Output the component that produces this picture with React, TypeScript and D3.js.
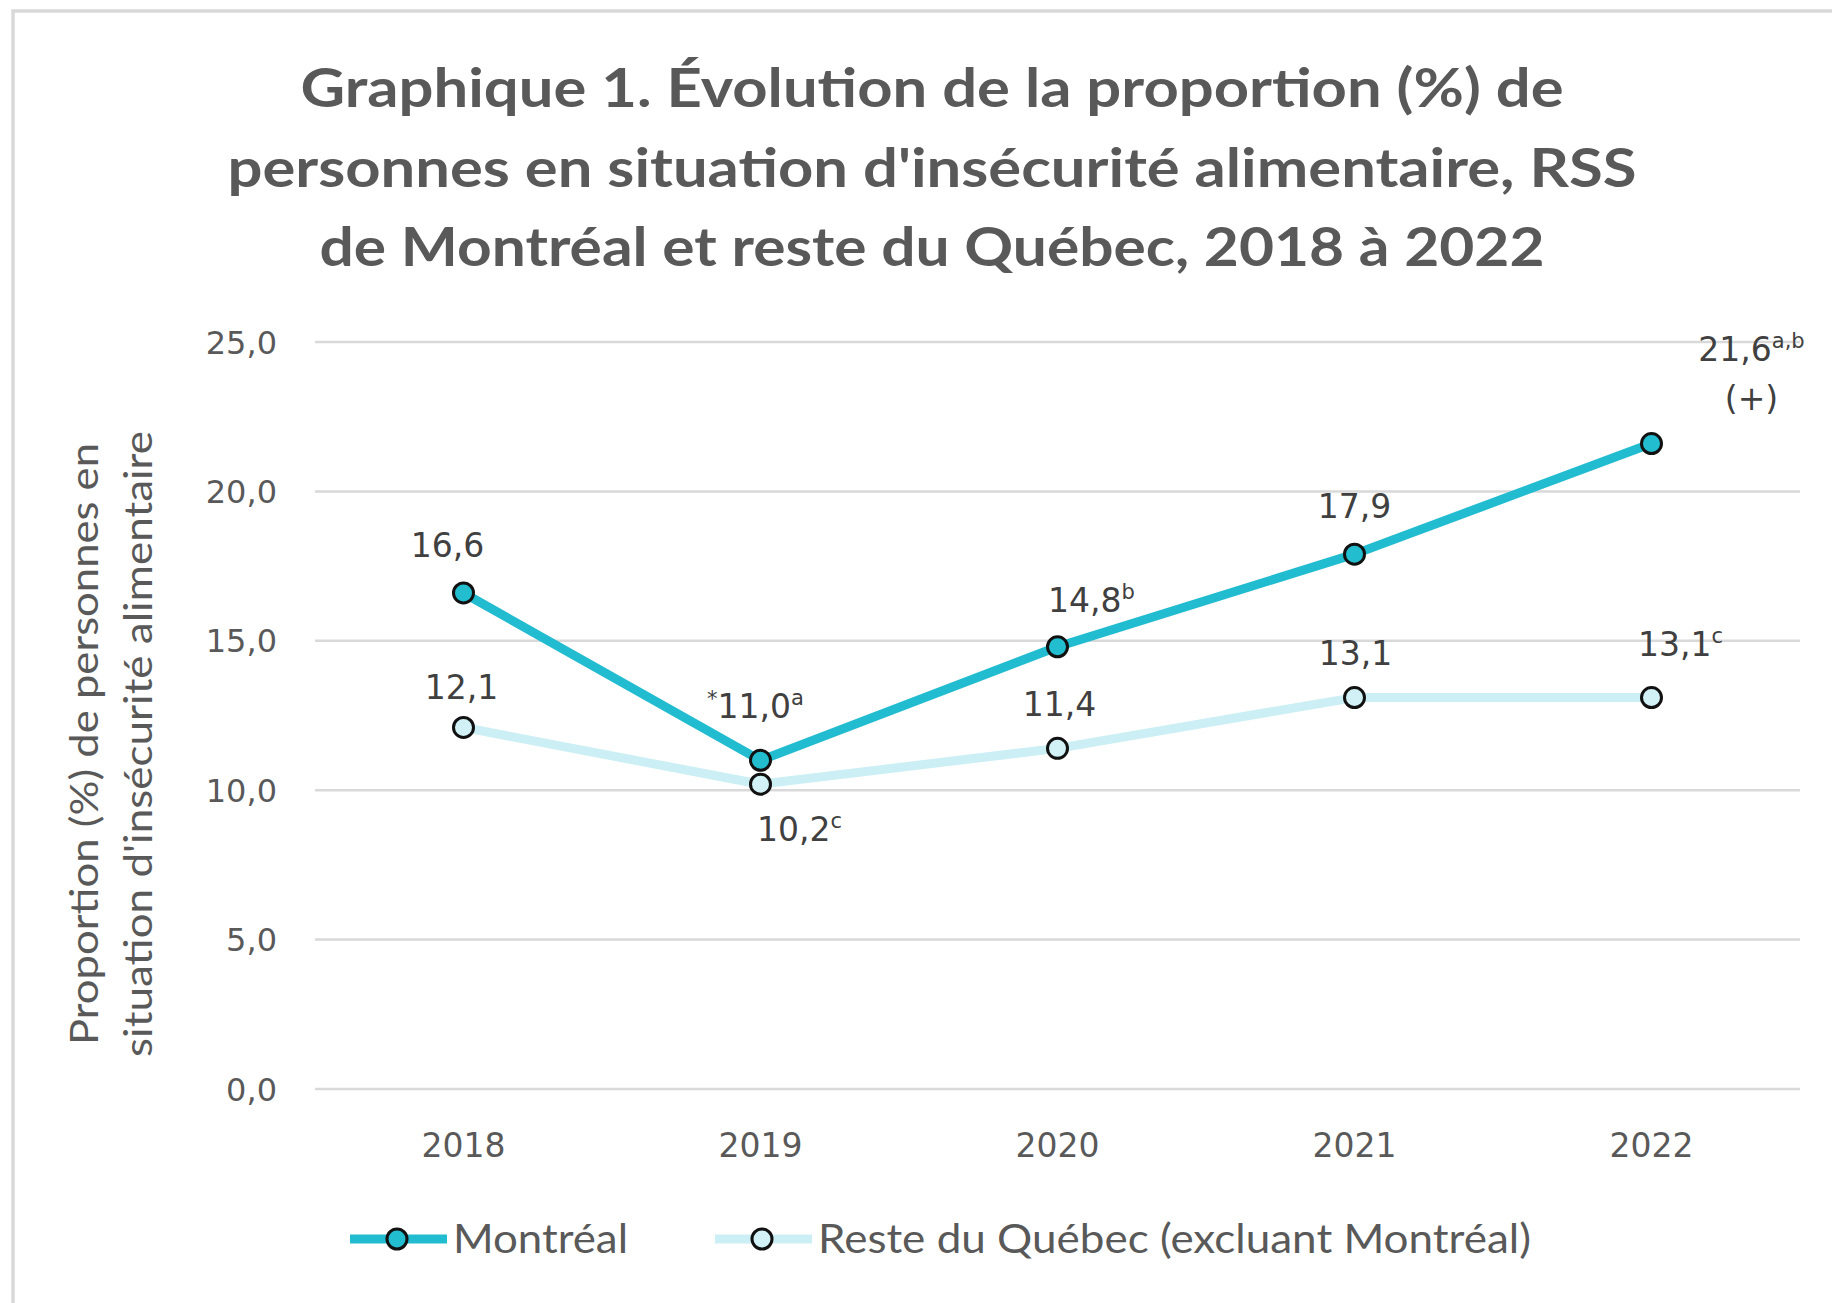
import React from 'react';
import * as d3 from 'd3';

// Data
const years = ['2018', '2019', '2020', '2021', '2022'];
const montreal = [16.6, 11.0, 14.8, 17.9, 21.6];
const resteQuebec = [12.1, 10.2, 11.4, 13.1, 13.1];
const montrealLabels = ['16,6', '11,0', '14,8', '17,9', '21,6'];
const montrealSups = ['', 'a', 'b', '', 'a,b'];
const montrealPrefix = ['', '*', '', '', ''];
const resteLabels = ['12,1', '10,2', '11,4', '13,1', '13,1'];
const resteSups = ['', 'c', '', '', 'c'];
const yTicks = [0, 5, 10, 15, 20, 25];
const seriesNames = ['Montréal', 'Reste du Québec (excluant Montréal)'];
const titleLines = [
  "Graphique 1. Évolution de la proportion (%) de",
  "personnes en situation d'insécurité alimentaire, RSS",
  'de Montréal et reste du Québec, 2018 à 2022',
];

// Layout
const W = 1832;
const H = 1303;
const plot = { left: 315, right: 1800, top: 342, bottom: 1089 };
const montrealColor = '#22bcd1';
const resteColor = '#cbeff5';
const montrealFill = '#23bdd0';
const resteFill = '#d2f1f6';
const textColor = '#595959';
const labelColor = '#404040';
const numFont = "'DejaVu Sans', sans-serif";

// label offsets (dx, dy) relative to each point
const montrealOffsets = [[-16, -36], [-5, -42], [34, -35], [0, -36], [100, -83]];
const resteOffsets = [[-2, -28], [39, 57], [2, -32], [1, -33], [29, -42]];

const fmt = (v: number) => v.toFixed(1).replace('.', ',');

const DataLabel = ({ x, y, prefix, text, sup }) => (
  <text x={x} y={y} textAnchor="middle" fontFamily={numFont} fontSize={33} fill={labelColor}>
    {prefix ? (
      <tspan fontSize={21} dy={-12}>
        {prefix}
      </tspan>
    ) : null}
    <tspan dy={prefix ? 12 : 0}>{text}</tspan>
    {sup ? (
      <tspan fontSize={21} dy={-13}>
        {sup}
      </tspan>
    ) : null}
  </text>
);

export default function App() {
  const x = d3.scaleBand().domain(years).range([plot.left, plot.right]).padding(0);
  const cx = (yr: string) => (x(yr) as number) + x.bandwidth() / 2;
  const y = d3.scaleLinear().domain([0, 25]).range([plot.bottom, plot.top]);

  const line = d3
    .line<number>()
    .x((d, i) => cx(years[i]))
    .y((d) => y(d));

  return (
    <svg width={W} height={H} style={{ position: 'absolute', left: 0, top: 0, background: '#fff' }}>
      <rect x={0} y={0} width={W} height={H} fill="#fff" />
      {/* chart frame */}
      <rect x={13} y={11} width={W + 20} height={H + 20} fill="none" stroke="#d9d9d9" strokeWidth={3.5} />

      {/* title */}
      {titleLines.map((t, i) => (
        <text
          key={i}
          x={932}
          y={107 + i * 79.5}
          textAnchor="middle"
          fontFamily="Lato, sans-serif"
          fontWeight={700}
          fontSize={53}
          fill={textColor}
          textLength={[1263, 1409, 1225][i]}
          lengthAdjust="spacingAndGlyphs"
        >
          {t}
        </text>
      ))}

      {/* gridlines and y ticks */}
      {yTicks.map((t) => (
        <g key={t}>
          <line x1={plot.left} x2={plot.right} y1={y(t)} y2={y(t)} stroke="#d9d9d9" strokeWidth={2.5} />
          <text
            x={277}
            y={y(t)}
            dy="0.36em"
            textAnchor="end"
            fontFamily={numFont}
            fontSize={32}
            fill={textColor}
          >
            {fmt(t)}
          </text>
        </g>
      ))}

      {/* x ticks */}
      {years.map((yr) => (
        <text key={yr} x={cx(yr)} y={1157} textAnchor="middle" fontFamily={numFont} fontSize={33} fill={textColor}>
          {yr}
        </text>
      ))}

      {/* y axis title */}
      <g transform="translate(98, 744) rotate(-90)">
        <text
          x={0}
          y={0}
          textAnchor="middle"
          fontFamily="Lato, sans-serif"
          fontSize={38}
          fill={textColor}
          textLength={602}
          lengthAdjust="spacingAndGlyphs"
        >
          Proportion (%) de personnes en
        </text>
        <text
          x={0}
          y={54}
          textAnchor="middle"
          fontFamily="Lato, sans-serif"
          fontSize={38}
          fill={textColor}
          textLength={626}
          lengthAdjust="spacingAndGlyphs"
        >
          situation d'insécurité alimentaire
        </text>
      </g>

      {/* lines */}
      <path d={line(resteQuebec) || ''} fill="none" stroke={resteColor} strokeWidth={9} strokeLinejoin="round" />
      <path d={line(montreal) || ''} fill="none" stroke={montrealColor} strokeWidth={9} strokeLinejoin="round" />

      {/* markers */}
      {resteQuebec.map((v, i) => (
        <circle key={'r' + i} cx={cx(years[i])} cy={y(v)} r={10} fill={resteFill} stroke="#111" strokeWidth={3} />
      ))}
      {montreal.map((v, i) => (
        <circle key={'m' + i} cx={cx(years[i])} cy={y(v)} r={10} fill={montrealFill} stroke="#111" strokeWidth={3} />
      ))}

      {/* data labels */}
      {montreal.map((v, i) => (
        <DataLabel
          key={'ml' + i}
          x={cx(years[i]) + montrealOffsets[i][0]}
          y={y(v) + montrealOffsets[i][1]}
          prefix={montrealPrefix[i]}
          text={montrealLabels[i]}
          sup={montrealSups[i]}
        />
      ))}
      <text
        x={cx(years[4]) + montrealOffsets[4][0]}
        y={y(montreal[4]) - 34}
        textAnchor="middle"
        fontFamily={numFont}
        fontSize={33}
        fill={labelColor}
      >
        (+)
      </text>
      {resteQuebec.map((v, i) => (
        <DataLabel
          key={'rl' + i}
          x={cx(years[i]) + resteOffsets[i][0]}
          y={y(v) + resteOffsets[i][1]}
          prefix=""
          text={resteLabels[i]}
          sup={resteSups[i]}
        />
      ))}

      {/* legend */}
      <g>
        <line x1={350} x2={447} y1={1239} y2={1239} stroke={montrealColor} strokeWidth={9} />
        <circle cx={397} cy={1239} r={10} fill={montrealFill} stroke="#111" strokeWidth={3} />
        <text
          x={453}
          y={1253}
          fontFamily="Lato, sans-serif"
          fontSize={41}
          fill={textColor}
          textLength={175}
          lengthAdjust="spacingAndGlyphs"
        >
          {seriesNames[0]}
        </text>
        <line x1={715} x2={812} y1={1239} y2={1239} stroke={resteColor} strokeWidth={9} />
        <circle cx={762} cy={1239} r={10} fill={resteFill} stroke="#111" strokeWidth={3} />
        <text
          x={818}
          y={1253}
          fontFamily="Lato, sans-serif"
          fontSize={41}
          fill={textColor}
          textLength={713}
          lengthAdjust="spacingAndGlyphs"
        >
          {seriesNames[1]}
        </text>
      </g>
    </svg>
  );
}
